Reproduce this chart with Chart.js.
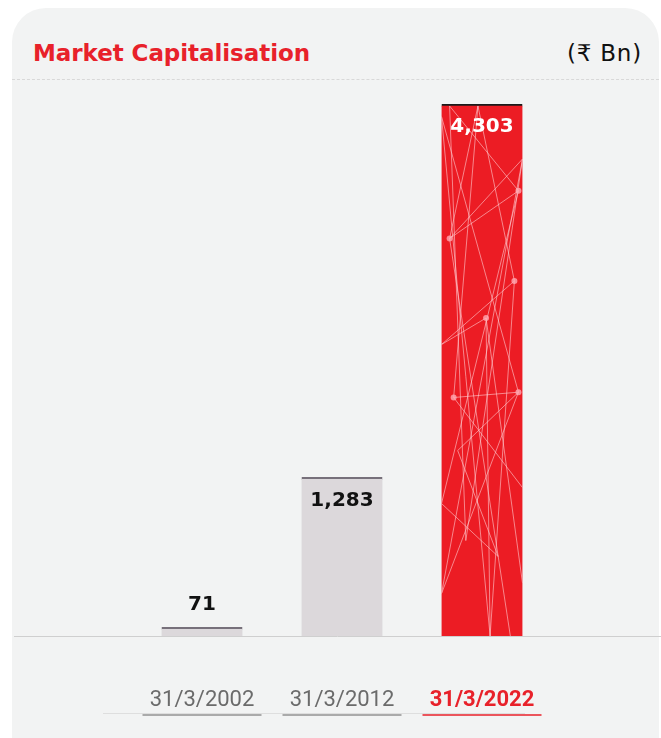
<!DOCTYPE html>
<html><head><meta charset="utf-8">
<script src="https://cdn.jsdelivr.net/npm/chart.js@4.4.1/dist/chart.umd.min.js"></script>
<style>
html,body{margin:0;padding:0;background:#fff;width:661px;height:738px;overflow:hidden;}
#card{position:absolute;left:12px;top:8px;width:647px;height:780px;background:#f2f3f3;border-radius:34px;}
#title{position:absolute;left:33px;top:41.5px;font:bold 23px "DejaVu Sans",sans-serif;line-height:23px;color:#e8212a;white-space:nowrap;}
#unit{position:absolute;right:19px;top:42px;font:23px "DejaVu Sans",sans-serif;line-height:23px;color:#111;white-space:nowrap;}
#dash{position:absolute;left:12px;width:647px;top:79px;border-top:1.5px dashed #d8d8d8;}
#wrap{position:absolute;left:0;top:0;width:661px;height:738px;}
</style></head>
<body>
<div id="card"></div>
<div id="title">Market Capitalisation</div>
<div id="unit">(₹ Bn)</div>
<div id="dash"></div>
<div id="wrap"><canvas id="c"></canvas></div>
<script>
const categories = ["31/3/2002", "31/3/2012", "31/3/2022"];
const values = [71, 1283, 4303];
const valueLabels = ["71", "1,283", "4,303"];

const barColors = ["#dcd8db", "#dcd8db", "#ec1c24"];
const topColors = ["#77707a", "#77707a", "#1a1a1a"];

function fitWidth(el, target){
  const n = el.textContent.length;
  const w = el.getBoundingClientRect().width;
  el.style.letterSpacing = ((target - w) / n) + 'px';
}
fitWidth(document.getElementById('title'), 277);
fitWidth(document.getElementById('unit'), 75);

// decorative network inside highlighted bar (fractions of bar box)
const nodes = [[0.0,0.02],[0.45,0.0],[1.0,0.1],[0.1,0.25],[0.95,0.16],[0.9,0.33],[0.0,0.45],[0.15,0.55],[0.95,0.54],[0.3,0.82],[1.0,0.72],[0.0,0.92],[0.6,1.0],[0.2,0.65],[0.55,0.4],[0.85,1.0],[0.1,0.0],[1.0,0.9],[0.0,0.75],[0.7,0.85]];
const links = [[16,4],[1,3],[1,5],[3,2],[3,4],[0,8],[6,5],[7,10],[14,17],[13,8],[9,2],[11,8],[12,14],[16,9],[3,15],[5,12],[4,18],[18,19],[7,1],[13,19],[6,14],[0,12],[2,11],[7,8]];

const extras = {
  id: 'extras',
  beforeDatasetsDraw(chart){
    const ctx = chart.ctx;
    ctx.save();
    ctx.strokeStyle = '#cfcfcf'; ctx.lineWidth = 1;
    ctx.beginPath(); ctx.moveTo(14, chart.chartArea.bottom + 0.5); ctx.lineTo(661, chart.chartArea.bottom + 0.5); ctx.stroke();
    ctx.restore();
  },
  afterDatasetsDraw(chart){
    const ctx = chart.ctx;
    const meta = chart.getDatasetMeta(0);
    const hb = meta.data[2];
    const x0 = hb.x - hb.width/2, w = hb.width, y0 = hb.y + 2, h = hb.base - hb.y - 2;
    ctx.save();
    ctx.beginPath(); ctx.rect(x0, y0, w, h); ctx.clip();
    ctx.strokeStyle = 'rgba(255,205,210,0.6)'; ctx.lineWidth = 1;
    links.forEach(([a,b])=>{
      ctx.beginPath();
      ctx.moveTo(x0 + nodes[a][0]*w, y0 + nodes[a][1]*h);
      ctx.lineTo(x0 + nodes[b][0]*w, y0 + nodes[b][1]*h);
      ctx.stroke();
    });
    ctx.fillStyle = 'rgba(255,170,180,0.8)';
    [[0.95,0.16],[0.1,0.25],[0.9,0.33],[0.15,0.55],[0.95,0.54],[0.55,0.4]].forEach(p=>{
      ctx.beginPath(); ctx.arc(x0+p[0]*w, y0+p[1]*h, 3, 0, Math.PI*2); ctx.fill();
    });
    ctx.restore();
    // value labels
    ctx.save();
    ctx.font = 'bold 20px "DejaVu Sans", sans-serif';
    ctx.textAlign = 'center'; ctx.textBaseline = 'middle';
    meta.data.forEach((bar, i)=>{
      const hgt = bar.base - bar.y;
      if (hgt > 40) {
        ctx.fillStyle = i === 2 ? '#ffffff' : '#111111';
        ctx.fillText(valueLabels[i], bar.x, bar.y + 23);
      } else {
        ctx.fillStyle = '#111111';
        ctx.fillText(valueLabels[i], bar.x, bar.y - 22);
      }
    });
    ctx.restore();
    // underlines for x labels
    const xs = chart.scales.x;
    ctx.save();
    ctx.strokeStyle = '#dedede'; ctx.lineWidth = 1;
    ctx.beginPath(); ctx.moveTo(103, 713.5); ctx.lineTo(525, 713.5); ctx.stroke();
    categories.forEach((c,i)=>{
      const cx = xs.getPixelForValue(i);
      ctx.strokeStyle = i === 2 ? '#e8212a' : '#aaaaaa';
      ctx.lineWidth = i === 2 ? 1.5 : 2;
      ctx.beginPath(); ctx.moveTo(cx - 59.5, 715); ctx.lineTo(cx + 59.5, 715); ctx.stroke();
    });
    ctx.restore();
  }
};

new Chart(document.getElementById('c'), {
  type: 'bar',
  data: {
    labels: categories,
    datasets: [{
      data: values,
      backgroundColor: barColors,
      borderColor: topColors,
      borderWidth: {top: 2, left: 0, right: 0, bottom: 0},
      borderSkipped: 'bottom',
      barThickness: 81
    }]
  },
  options: {
    responsive: true, maintainAspectRatio: false, animation: false,
    devicePixelRatio: 1,
    layout: {padding: {left: 132, right: 109, top: 104, bottom: 0}},
    plugins: {legend: {display: false}, tooltip: {enabled: false}},
    scales: {
      y: {display: false, min: 0, max: 4303},
      x: {
        offset: true,
        grid: {display: false, drawTicks: false},
        border: {display: false},
        ticks: {
          padding: 51,
          color: (ctx)=> ctx.index === 2 ? '#e8212a' : '#6b6b6b',
          font: (ctx)=> ({family: 'Roboto, "Noto Sans", sans-serif', size: 22, weight: ctx.index === 2 ? 'bold' : 'normal'})
        },
        afterFit(scale){ scale.height = 102; }
      }
    }
  },
  plugins: [extras]
});
</script>
</body></html>
